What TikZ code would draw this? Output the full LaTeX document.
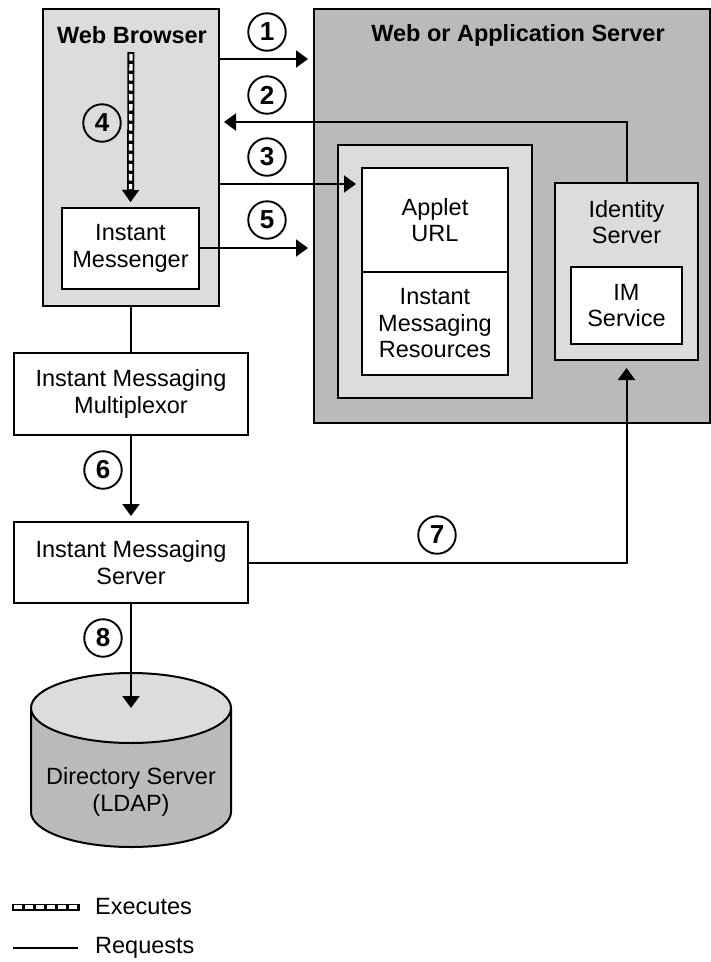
\documentclass[tikz,border=0pt]{standalone}
\usepackage{fontspec}
\setmainfont{Liberation Sans}
\usetikzlibrary{arrows.meta,calc}
\definecolor{lgray}{HTML}{DCDCDC}
\definecolor{dgray}{HTML}{BABABA}
\begin{document}
\begin{tikzpicture}[x=1pt,y=-1pt,
  txt/.style={font=\fontsize{23.5}{26.5}\selectfont,align=center,inner sep=0pt},
  box/.style={draw,line width=2pt,fill=white,inner sep=0pt,align=center,font=\fontsize{23.5}{26.5}\selectfont},
  req/.style={line width=2pt,-{Triangle[length=12pt,width=17pt]}},
  plain/.style={line width=2pt},
  num/.style={draw,circle,line width=1.9pt,minimum size=37.5pt,inner sep=0pt,font=\bfseries\fontsize{26}{26}\selectfont},
  title/.style={font=\bfseries\fontsize{23.5}{26.5}\selectfont,inner sep=0pt},
]
\useasboundingbox (0,0) rectangle (711,962);

% containers
\node[box,fill=dgray,minimum width=396pt,minimum height=414pt] (server) at (512,216) {};
\node[title] (servertitle) at (518,35) {Web or Application Server};
\node[box,fill=lgray,minimum width=176pt,minimum height=297pt] (browser) at (131,157.5) {};
\node[title] (browsertitle) at (132,35) {Web Browser};
\node[box,fill=lgray,minimum width=194pt,minimum height=253pt] (applets) at (435,271.5) {};
\node[box,minimum width=146pt,minimum height=104pt] (applet) at (435,220) {Applet\\URL};
\node[box,minimum width=146pt,minimum height=103pt] (imres) at (435,323.5) {Instant\\Messaging\\Resources};
\node[box,fill=lgray,minimum width=143pt,minimum height=177pt] (idsrv) at (626.5,271.5) {};
\node[txt] (idtext) at (626.5,222) {Identity\\Server};
\node[box,minimum width=111pt,minimum height=77pt] (imsvc) at (626.5,305.5) {IM\\Service};
\node[box,minimum width=137pt,minimum height=81pt] (im) at (130.5,248.5) {Instant\\Messenger};
\node[box,minimum width=234pt,minimum height=82pt] (mux) at (131,394) {Instant Messaging\\Multiplexor};
\node[box,minimum width=234pt,minimum height=81pt] (imsrv) at (131,562.5) {Instant Messaging\\Server};

% directory server cylinder
\path[draw,line width=2pt,fill=dgray] (31,708) -- (31,812) arc[start angle=180,end angle=0,x radius=100,y radius=35] -- (231,708);
\draw[line width=2pt,fill=lgray] (131,708) ellipse[x radius=100,y radius=35];
\node[txt] (ds) at (131,792) {Directory Server\\(LDAP)};
\coordinate (dstop) at (131,708);

% rows of the arrows
\coordinate (y1) at (0,59);
\coordinate (y2) at (0,122);
\coordinate (y3) at (0,184);
\coordinate (y5) at (0,248);
\coordinate (y7) at (0,563);

% connectors
\draw[req,shorten >=5pt] (browser.east |- y1) -- (server.west |- y1);
\draw[req,shorten >=4pt] (idsrv.north) |- (browser.east |- y2);
\draw[req,shorten >=5pt] (browser.east |- y3) -- (applet.west |- y3);
\draw[req,shorten >=5pt] (im.east |- y5) -- (server.west |- y5);
\draw[plain] (browser.south) -- (mux.north);
\draw[req,shorten >=5pt] (mux.south) -- (imsrv.north);
\draw[req] (imsrv.south) -- (dstop);
\draw[req,shorten >=7pt] (imsrv.east |- y7) -| (idsrv.south);

% executes arrow
\coordinate (ex0) at (131,52);
\draw[line width=7pt,-{Triangle[length=12pt,width=17pt,line width=0.01pt]},shorten >=5pt] (ex0) -- (im.north);
\draw[white,line width=3.4pt,dash pattern=on 6.5pt off 3.5pt] ($(ex0)+(0,2)$) -- ($(im.north)+(0,-18)$);

% step numbers
\node[num] (n1) at (267,32) {1};
\node[num] (n2) at (267,95) {2};
\node[num] (n3) at (267,157) {3};
\node[num] (n5) at (267,220) {5};
\node[num] (n4) at (102,123) {4};
\node[num] (n6) at (103,470) {6};
\node[num] (n8) at (103,638) {8};
\node[num] (n7) at (437,535) {7};

% legend
\coordinate (lx0) at (12,907);
\coordinate (lx1) at (80,907);
\draw[line width=7pt] (lx0) -- (lx1);
\draw[white,line width=3.4pt,dash pattern=on 8pt off 3pt] ($(lx0)+(2,0)$) -- ($(lx1)+(-2,0)$);
\node[txt,anchor=west] (lexec) at (95,907) {Executes};
\coordinate (lr0) at (13,948);
\coordinate (lr1) at (78,948);
\draw[plain] (lr0) -- (lr1);
\node[txt,anchor=west] (lreq) at (95,948) {Requests};
\end{tikzpicture}
\end{document}
